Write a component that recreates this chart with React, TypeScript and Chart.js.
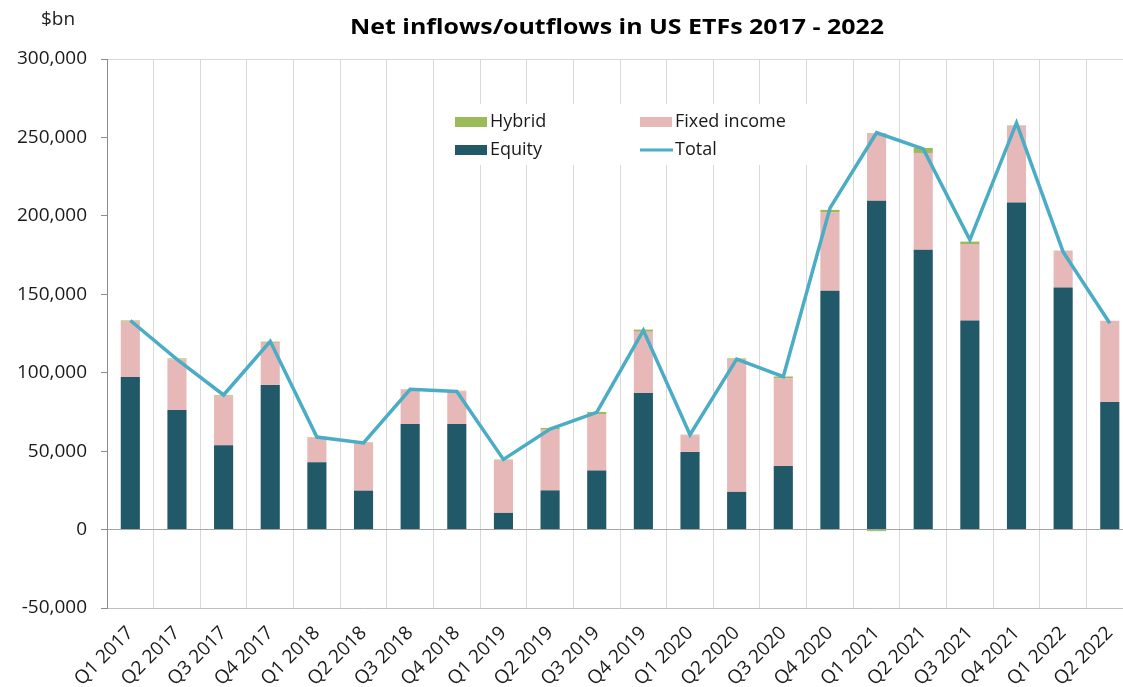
import { useEffect, useRef } from 'react';
import { Chart, registerables } from 'chart.js';

Chart.register(...registerables);

const categories = [
  'Q1 2017', 'Q2 2017', 'Q3 2017', 'Q4 2017',
  'Q1 2018', 'Q2 2018', 'Q3 2018', 'Q4 2018',
  'Q1 2019', 'Q2 2019', 'Q3 2019', 'Q4 2019',
  'Q1 2020', 'Q2 2020', 'Q3 2020', 'Q4 2020',
  'Q1 2021', 'Q2 2021', 'Q3 2021', 'Q4 2021',
  'Q1 2022', 'Q2 2022',
];

const equity = [
  97300, 76200, 53700, 92200,
  42900, 24800, 67300, 67300,
  10600, 25000, 37600, 87100,
  49500, 24000, 40600, 152200,
  209600, 178400, 133300, 208500,
  154300, 81300,
];

const fixedIncome = [
  35300, 32400, 31400, 26900,
  15800, 30500, 21800, 20900,
  33700, 38700, 36100, 39000,
  10700, 84300, 55800, 49900,
  43300, 61700, 48700, 48800,
  23600, 51800,
];

const hybrid = [
  700, 500, 500, 700,
  300, 300, 300, 300,
  300, 1100, 1300, 1400,
  300, 800, 1200, 1700,
  -1000, 3200, 1600, 300,
  0, 0,
];

const total = [
  133300, 108500, 85800, 120000,
  59000, 55200, 89400, 88000,
  44700, 64100, 74700, 127000,
  60500, 108700, 97500, 204900,
  253000, 242700, 184700, 259300,
  177000, 131500,
];

const yMin = -50000;
const yMax = 300000;
const yStep = 50000;

const titleText = 'Net inflows/outflows in US ETFs 2017 - 2022';
const unitText = '$bn';

const C_EQUITY = '#215968';
const C_FIXED = '#E6B9B8';
const C_HYBRID = '#9BBB59';
const C_TOTAL = '#4BACC6';
const FONT = '"Open Sans", "DejaVu Sans", sans-serif';

const overlayPlugin = {
  id: 'overlay',
  beforeDatasetsDraw(chart: any) {
    const ctx = chart.ctx;
    ctx.save();
    // legend box
    ctx.fillStyle = '#ffffff';
    ctx.fillRect(447, 104, 360, 61);
    const items = [
      { label: 'Hybrid', color: C_HYBRID, x: 455, y: 122, kind: 'box' },
      { label: 'Fixed income', color: C_FIXED, x: 640, y: 122, kind: 'box' },
      { label: 'Equity', color: C_EQUITY, x: 455, y: 150, kind: 'box' },
      { label: 'Total', color: C_TOTAL, x: 640, y: 150, kind: 'line' },
    ];
    ctx.font = `18px ${FONT}`;
    ctx.textAlign = 'left';
    ctx.textBaseline = 'middle';
    for (const it of items) {
      if (it.kind === 'box') {
        ctx.fillStyle = it.color;
        ctx.fillRect(it.x, it.y - 5, 32, 10);
      } else {
        ctx.strokeStyle = it.color;
        ctx.lineWidth = 3;
        ctx.beginPath();
        ctx.moveTo(it.x, it.y);
        ctx.lineTo(it.x + 33, it.y);
        ctx.stroke();
      }
      ctx.fillStyle = '#1a1a1a';
      ctx.fillText(it.label, it.x + 35, it.y);
    }
    ctx.restore();
  },
  afterDraw(chart: any) {
    const ctx = chart.ctx;
    ctx.save();
    ctx.fillStyle = '#000000';
    ctx.textAlign = 'center';
    ctx.textBaseline = 'middle';
    ctx.font = `bold 22px ${FONT}`;
    const w = ctx.measureText(titleText).width;
    const sx = Math.max(1, 534 / w);
    ctx.translate(617, 28);
    ctx.scale(sx, 1);
    ctx.fillText(titleText, 0, 0);
    ctx.restore();
    ctx.save();
    ctx.fillStyle = '#222222';
    ctx.textAlign = 'center';
    ctx.textBaseline = 'middle';
    ctx.font = `19px ${FONT}`;
    ctx.fillText(unitText, 58, 20);
    ctx.restore();
  },
};

export default function App() {
  const canvasRef = useRef<HTMLCanvasElement | null>(null);

  useEffect(() => {
    if (!canvasRef.current) return;
    const chart = new Chart(canvasRef.current, {
      type: 'bar',
      data: {
        labels: categories,
        datasets: [
          {
            type: 'line',
            label: 'Total',
            data: total,
            borderColor: C_TOTAL,
            backgroundColor: C_TOTAL,
            borderWidth: 3.5,
            pointRadius: 0,
            tension: 0,
            stack: 'total',
            order: 0,
          } as any,
          {
            label: 'Equity',
            data: equity,
            backgroundColor: C_EQUITY,
            stack: 'bars',
            order: 1,
            categoryPercentage: 1,
            barPercentage: 0.41,
          },
          {
            label: 'Fixed income',
            data: fixedIncome,
            backgroundColor: C_FIXED,
            stack: 'bars',
            order: 1,
            categoryPercentage: 1,
            barPercentage: 0.41,
          },
          {
            label: 'Hybrid',
            data: hybrid,
            backgroundColor: C_HYBRID,
            stack: 'bars',
            order: 1,
            categoryPercentage: 1,
            barPercentage: 0.41,
          },
        ],
      },
      options: {
        animation: false,
        responsive: true,
        maintainAspectRatio: false,
        layout: { padding: { top: 59, right: 4, left: 0, bottom: 0 } },
        plugins: {
          legend: { display: false },
          title: { display: false },
          tooltip: { enabled: false },
        },
        scales: {
          x: {
            stacked: true,
            offset: true,
            grid: {
              offset: true,
              color: '#d9d9d9',
              lineWidth: 1,
              drawTicks: false,
            },
            border: { display: false },
            ticks: {
              minRotation: 45,
              maxRotation: 45,
              autoSkip: false,
              padding: 14,
              color: '#1a1a1a',
              font: { family: FONT, size: 19 },
            },
            afterFit(scale: any) {
              scale.height = 79;
            },
          },
          y: {
            stacked: true,
            min: yMin,
            max: yMax,
            ticks: {
              stepSize: yStep,
              padding: 14,
              color: '#1a1a1a',
              font: { family: FONT, size: 19 },
              callback: (v: any) => Number(v).toLocaleString('en-US'),
            },
            grid: {
              color: (ctx: any) => {
                const v = ctx.tick ? ctx.tick.value : null;
                if (v === 0) return '#a6a6a6';
                if (v === yMax) return '#d9d9d9';
                if (v === yMin) return '#bfbfbf';
                return 'rgba(0,0,0,0)';
              },
              tickColor: '#8c8c8c',
              tickLength: 6,
              lineWidth: 1,
            },
            border: { display: true, color: '#8c8c8c', width: 1 },
            afterFit(scale: any) {
              scale.width = 107;
            },
          },
        },
      },
      plugins: [overlayPlugin],
    });
    return () => chart.destroy();
  }, []);

  return (
    <div
      style={{
        position: 'fixed',
        left: 0,
        top: 0,
        width: 1123,
        height: 687,
        overflow: 'hidden',
        background: '#ffffff',
      }}
    >
      <div style={{ position: 'relative', width: 1140, height: 687 }}>
        <canvas ref={canvasRef} />
      </div>
    </div>
  );
}
